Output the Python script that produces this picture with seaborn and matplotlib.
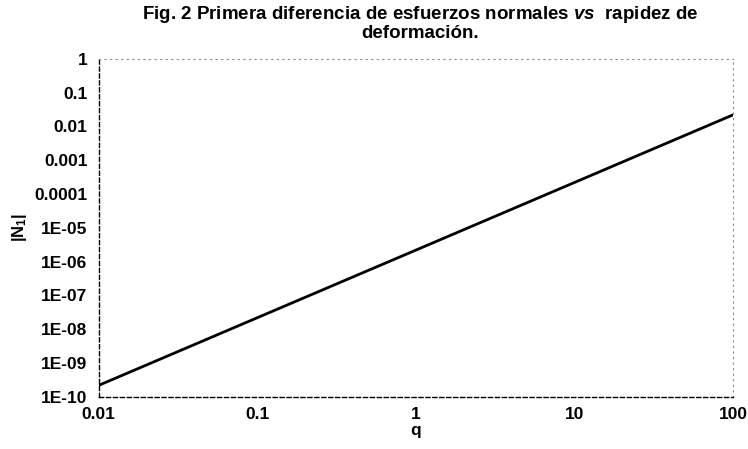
import matplotlib
matplotlib.use("Agg")
import matplotlib.pyplot as plt
import seaborn as sns
import pandas as pd

# Data
q_values = [0.01, 0.1, 1, 10, 100]
n1_values = [2.2e-10, 2.2e-8, 2.2e-6, 2.2e-4, 2.2e-2]
y_tick_values = [1e-10, 1e-9, 1e-8, 1e-7, 1e-6, 1e-5, 1e-4, 1e-3, 1e-2, 1e-1, 1]
y_tick_labels = ["1E-10", "1E-09", "1E-08", "1E-07", "1E-06", "1E-05",
                 "0.0001", "0.001", "0.01", "0.1", "1"]
x_tick_values = [0.01, 0.1, 1, 10, 100]
x_tick_labels = ["0.01", "0.1", "1", "10", "100"]

sns.set_style("white", {"text.color": "black", "axes.labelcolor": "black",
                        "xtick.color": "black", "ytick.color": "black"})
plt.rcParams['font.family'] = ['Liberation Sans', 'DejaVu Sans']
plt.rcParams['mathtext.fontset'] = 'custom'
plt.rcParams['mathtext.rm'] = 'Liberation Sans'
plt.rcParams['mathtext.bf'] = 'Liberation Sans:bold'
plt.rcParams['mathtext.it'] = 'Liberation Sans:italic'
plt.rcParams['mathtext.bfit'] = 'Liberation Sans:italic:bold'

df = pd.DataFrame({"q": q_values, "N1": n1_values})

fig = plt.figure(figsize=(7.48, 4.49), dpi=100)
ax = fig.add_axes([0.132, 0.116, 0.848, 0.753])

sns.lineplot(data=df, x="q", y="N1", ax=ax, color="black", linewidth=2.0)

ax.set_xscale("log")
ax.set_yscale("log")
ax.set_xlim(0.01, 100)
ax.set_ylim(1e-10, 1)

ax.set_yticks(y_tick_values)
ax.set_yticklabels(y_tick_labels, fontsize=12.5, fontweight="bold", color="black")
ax.set_xticks(x_tick_values)
ax.set_xticklabels(x_tick_labels, fontsize=12.5, fontweight="bold", color="black")
ax.minorticks_off()
ax.tick_params(axis="both", length=0)
ax.tick_params(axis="y", pad=8)
ax.tick_params(axis="x", pad=7)

ax.set_xlabel("q", fontsize=12.5, fontweight="bold", labelpad=1, color="black")
ax.set_ylabel("|N$_\\mathbf{1}$|", fontsize=12, fontweight="bold", labelpad=4, color="black")

for side in ["left", "bottom"]:
    ax.spines[side].set_visible(True)
    ax.spines[side].set_color("black")
    ax.spines[side].set_linestyle((0, (3, 2)))
    ax.spines[side].set_linewidth(1.0)
for side in ["top", "right"]:
    ax.spines[side].set_visible(True)
    ax.spines[side].set_color("#888888")
    ax.spines[side].set_linestyle((0, (1, 4)))
    ax.spines[side].set_linewidth(0.8)

ax.set_title("Fig. 2 Primera diferencia de esfuerzos normales $\\mathbfit{vs}$  rapidez de\ndeformación.",
             fontsize=13.5, fontweight="bold", pad=15, linespacing=1.0, x=0.507, color="black")

fig.savefig("out.png", dpi=100)
